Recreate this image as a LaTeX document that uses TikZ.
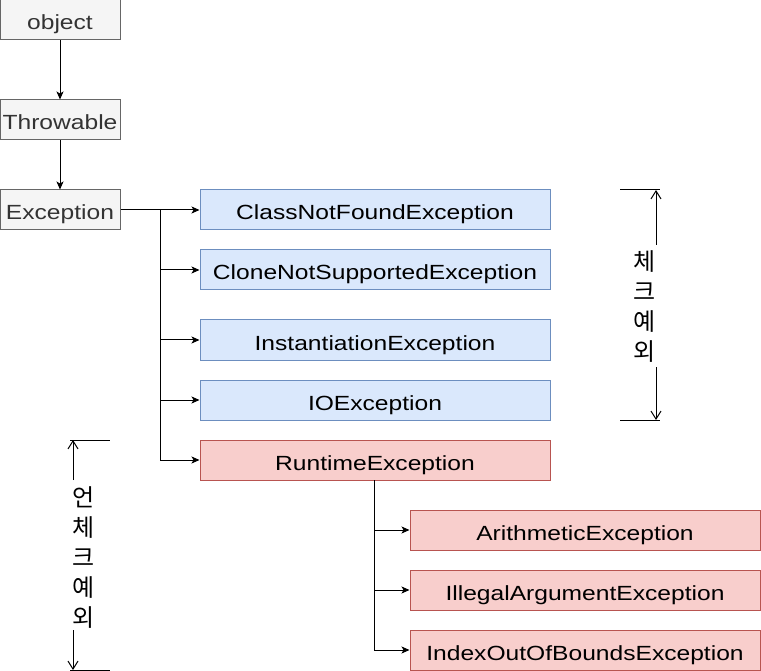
\documentclass[tikz,border=0pt]{standalone}
\usepackage{fontspec}
\setmainfont{Liberation Sans}[FakeStretch=1.2]
\newfontfamily\krfont{Noto Sans CJK KR}
\usetikzlibrary{arrows.meta}
\definecolor{grayfill}{HTML}{F5F5F5}
\definecolor{graydraw}{HTML}{666666}
\definecolor{graytext}{HTML}{333333}
\definecolor{bluefill}{HTML}{DAE8FC}
\definecolor{bluedraw}{HTML}{6C8EBF}
\definecolor{redfill}{HTML}{F8CECC}
\definecolor{reddraw}{HTML}{B85450}
\tikzset{
  box/.style={draw, line width=1pt, inner sep=0pt, minimum height=40pt,
    text height=20pt, text depth=0pt,
    font=\fontsize{20.5}{24}\selectfont},
  graybox/.style={box, fill=grayfill, draw=graydraw, text=graytext, minimum width=120pt},
  bluebox/.style={box, fill=bluefill, draw=bluedraw, minimum width=350pt},
  redbox/.style={box, fill=redfill, draw=reddraw, minimum width=350pt},
  arr/.style={line width=1pt, -{Stealth[length=8pt,width=7pt,inset=2pt]}},
  plain/.style={line width=1pt},
  dim/.style={line width=1pt, -{Straight Barb[length=8pt,width=10pt]}},
  krlabel/.style={align=center, inner sep=0pt, font=\krfont\fontsize{24}{30}\selectfont}
}
\begin{document}
\begin{tikzpicture}[x=1pt,y=-1pt]
\useasboundingbox (0,0) rectangle (761,671);
% gray chain
\node[graybox] (obj) at (60,20) {object};
\node[graybox] (thr) at (60,120) {Throwable};
\node[graybox] (exc) at (60,210) {Exception};
% checked
\node[bluebox] (cnf) at (375,210) {ClassNotFoundException};
\node[bluebox] (cns) at (375,270) {CloneNotSupportedException};
\node[bluebox] (ins) at (375,340) {InstantiationException};
\node[bluebox] (ioe) at (375,400) {IOException};
\node[redbox] (rte) at (375,460) {RuntimeException};
% unchecked
\node[redbox] (ari) at (585,530) {ArithmeticException};
\node[redbox] (ill) at (585,590) {IllegalArgumentException};
\node[redbox] (ind) at (585,650) {IndexOutOfBoundsException};
% connectors
\draw[arr] (obj) -- (thr);
\draw[arr] (thr) -- (exc);
\draw[arr] (exc) -- (cnf);
\coordinate (br) at (160,210);
\coordinate (brend) at (160,460);
\draw[plain] (br) -- (brend);
\draw[arr] (br) |- (cns.west);
\draw[arr] (br) |- (ins.west);
\draw[arr] (br) |- (ioe.west);
\draw[arr] (br) |- (rte.west);
\coordinate (rb) at (374,480);
\draw[arr] (rb) |- (ari.west);
\draw[arr] (rb) |- (ill.west);
\draw[arr] (rb) |- (ind.west);
% checked dimension
\coordinate (ctl) at (620,190);
\coordinate (ctr) at (660,190);
\coordinate (cbl) at (620,420);
\coordinate (cbr) at (660,420);
\coordinate (ctop) at (656,190);
\coordinate (cbot) at (656,420);
\coordinate (cg1) at (656,245);
\coordinate (cg2) at (656,367);
\draw[plain] (ctl) -- (ctr);
\draw[plain] (cbl) -- (cbr);
\draw[dim] (cg1) -- (ctop);
\draw[dim] (cg2) -- (cbot);
\node[krlabel] (cklabel) at (645,307) {체\\크\\예\\외};
% unchecked dimension
\coordinate (utl) at (70,440);
\coordinate (utr) at (110,440);
\coordinate (ubl) at (70,670);
\coordinate (ubr) at (110,670);
\coordinate (utop) at (73,440);
\coordinate (ubot) at (73,670);
\coordinate (ug1) at (73,480);
\coordinate (ug2) at (73,630);
\draw[plain] (utl) -- (utr);
\draw[plain] (ubl) -- (ubr);
\draw[dim] (ug1) -- (utop);
\draw[dim] (ug2) -- (ubot);
\node[krlabel] (uklabel) at (84,558) {언\\체\\크\\예\\외};
\end{tikzpicture}
\end{document}
